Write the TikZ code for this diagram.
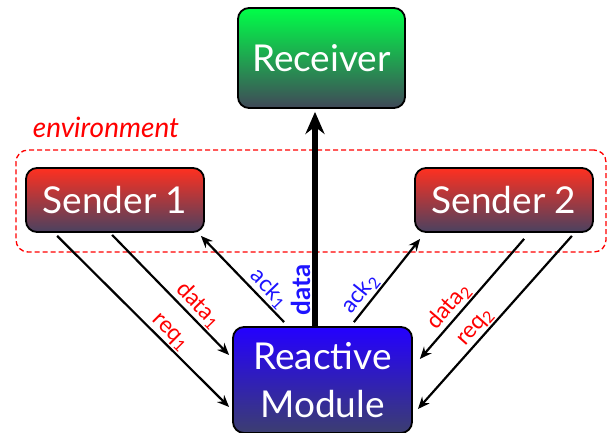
\documentclass[tikz,border=0pt]{standalone}
\usepackage{fontspec}
\setmainfont{Lato}
\usetikzlibrary{arrows.meta,calc}

\definecolor{sendTop}{RGB}{255,48,32}
\definecolor{sendBot}{RGB}{74,66,96}
\definecolor{recvTop}{RGB}{0,255,72}
\definecolor{recvBot}{RGB}{64,72,88}
\definecolor{modTop}{RGB}{36,0,255}
\definecolor{modBot}{RGB}{60,62,112}
\definecolor{sigRed}{RGB}{255,0,0}
\definecolor{sigBlue}{RGB}{30,20,255}

\begin{document}
\begin{tikzpicture}[x=1pt, y=1pt,
    box style/.style={draw=black, line width=1.8pt, rounded corners=11pt,
        text=white, align=center, inner sep=0pt,
        font=\fontsize{37}{48}\selectfont},
    sender style/.style={box style, top color=sendTop, bottom color=sendBot,
        minimum width=178pt, minimum height=64pt},
    env style/.style={draw=sigRed, line width=1.3pt, dash pattern=on 5pt off 3pt,
        rounded corners=12pt, minimum width=590pt, minimum height=102pt},
    sig style/.style={draw=black, line width=2.2pt, -{Stealth[length=12pt, width=10pt]}},
    red lab/.style={text=sigRed, font=\fontsize{23}{23}\selectfont, sloped, above, inner sep=1.5pt},
    blue lab/.style={red lab, text=sigBlue},]
    \useasboundingbox (0,0) rectangle (608,432);
    %\draw (0,0) rectangle (608,432);

    % boxes
    \node[env style] (env) at (311,231) {};
    \node[text=sigRed, font=\fontsize{28}{28}\selectfont\itshape] (envlab) at (106,305) {environment};

    \node[box style, top color=recvTop, bottom color=recvBot,
        minimum width=167pt, minimum height=100pt] (recv) at (321.5,374) {Receiver};
    \node[sender style] (s1) at (115,232) {Sender 1};
    \node[sender style] (s2) at (504,232) {Sender 2};
    \node[box style, top color=modTop, bottom color=modBot,
        minimum width=179pt, minimum height=106pt] (rm) at (322.5,52) {Reactive\\Module};

    % module -> receiver
    \draw[line width=6pt, -{Stealth[length=22pt, width=19pt]}]
        ($(rm.north)+(-7.5,0)$) -- ($(recv.south)+(-6.5,-3)$)
        node[pos=0.17, blue lab, font=\fontsize{26}{26}\selectfont\bfseries] {data};

    % sender 1
    \draw[sig style] ($(s1.south west)+(32,-3)$) -- ($(rm.west)+(-3,-27)$)
        node[pos=0.61, red lab] {req\textsubscript{1}};
    \draw[sig style] ($(s1.south west)+(87,-2)$) -- ($(rm.west)+(-3,25)$)
        node[pos=0.66, red lab] {data\textsubscript{1}};
    \draw[sig style] ($(rm.north west)+(52,4)$) -- ($(s1.south east)+(-4,-3)$)
        node[pos=0.29, blue lab] {ack\textsubscript{1}};

    % sender 2
    \draw[sig style] ($(rm.north east)+(-59,4)$) -- ($(s2.south west)+(6,-6)$)
        node[pos=0.25, blue lab] {ack\textsubscript{2}};
    \draw[sig style] ($(s2.south west)+(110,-6)$) -- ($(rm.east)+(7,21)$)
        node[pos=0.63, red lab] {data\textsubscript{2}};
    \draw[sig style] ($(s2.south east)+(-22,-3)$) -- ($(rm.east)+(5,-29)$)
        node[pos=0.57, red lab] {req\textsubscript{2}};

\end{tikzpicture}
\end{document}
